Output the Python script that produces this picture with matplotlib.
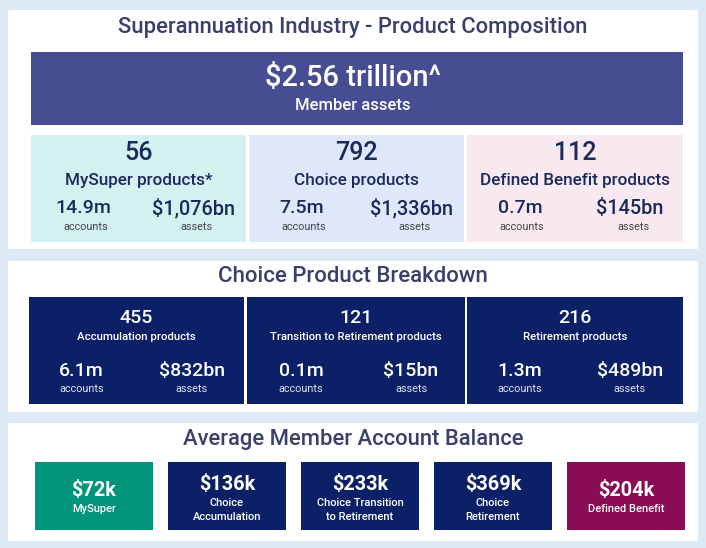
import matplotlib.pyplot as plt
from matplotlib.patches import Rectangle

# hodnoty z infografiky
total_assets = "$2.56 trillion^"
total_label = "Member assets"

prod_counts = ["56", "792", "112"]
prod_names = ["MySuper products*", "Choice products", "Defined Benefit products"]
prod_accounts = ["14.9m", "7.5m", "0.7m"]
prod_assets = ["$1,076bn", "$1,336bn", "$145bn"]

choice_counts = ["455", "121", "216"]
choice_names = ["Accumulation products", "Transition to Retirement products", "Retirement products"]
choice_accounts = ["6.1m", "0.1m", "1.3m"]
choice_assets = ["$832bn", "$15bn", "$489bn"]

bal_values = ["$72k", "$136k", "$233k", "$369k", "$204k"]
bal_labels = ["MySuper", "Choice\nAccumulation", "Choice Transition\nto Retirement",
              "Choice\nRetirement", "Defined Benefit"]

# barvy
bg = "#dde9f5"
title_col = "#3b3f6b"
banner_col = "#474d92"
dark_txt = "#1b2a5c"
navy = "#0b2066"
light_cols = ["#d4f1f2", "#dfe7fb", "#f8e8ef"]
bal_cols = ["#00947a", navy, navy, navy, "#8a0c55"]

plt.rcParams['font.family'] = ['Roboto', 'DejaVu Sans']

fig = plt.figure(figsize=(7.06, 5.48), dpi=100)
fig.patch.set_facecolor(bg)
ax = fig.add_axes([0, 0, 1, 1])
ax.set_xlim(0, 706)
ax.set_ylim(548, 0)
ax.axis('off')


def box(x0, y0, x1, y1, col):
    ax.add_patch(Rectangle((x0, y0), x1 - x0, y1 - y0, facecolor=col, edgecolor='none'))


def txt(x, y, s, size, col, weight='normal', ls=1.05):
    ax.text(x, y, s, ha='center', va='center', fontsize=size, color=col,
            fontweight=weight, linespacing=ls)


# bile panely
for y0, y1 in [(10, 249), (261, 412), (423, 541)]:
    box(8, y0, 698, y1, 'white')

# panel 1
txt(353, 28, "Superannuation Industry - Product Composition", 15.8, title_col, 'medium')
box(31, 52, 683, 125, banner_col)
txt(353, 78, total_assets, 21, 'white', 'medium')
txt(353, 105, total_label, 12, 'white', 'medium')

edges = [(31, 246), (249, 464), (467, 683)]
for i, (x0, x1) in enumerate(edges):
    box(x0, 135, x1, 242, light_cols[i])
    cx = (x0 + x1) / 2
    txt(cx, 153, prod_counts[i], 18, dark_txt, 'medium')
    txt(cx, 180, prod_names[i], 12.3, dark_txt, 'medium')
    txt(cx - 55, 208, prod_accounts[i], 14, dark_txt, 'medium')
    txt(cx + 55, 208, prod_assets[i], 14.3, dark_txt, 'medium')
    txt(cx - 53, 227, "accounts", 7.8, '#444444')
    txt(cx + 58, 227, "assets", 7.8, '#444444')

# panel 2
txt(353, 277, "Choice Product Breakdown", 16, title_col, 'medium')
edges2 = [(29, 244), (247, 465), (467, 683)]
for i, (x0, x1) in enumerate(edges2):
    box(x0, 297, x1, 404, navy)
    cx = (x0 + x1) / 2
    txt(cx, 318, choice_counts[i], 14, 'white', 'medium')
    txt(cx, 337, choice_names[i], 8.2, 'white', 'medium')
    txt(cx - 55, 371, choice_accounts[i], 14, 'white', 'medium')
    txt(cx + 55, 371, choice_assets[i], 14, 'white', 'medium')
    txt(cx - 55, 389, "accounts", 7.8, '#dde2ef')
    txt(cx + 55, 389, "assets", 7.8, '#dde2ef')

# panel 3
txt(353, 439, "Average Member Account Balance", 15.8, title_col, 'medium')
for i in range(len(bal_values)):
    x0 = 35 + i * 133
    box(x0, 462, x0 + 118, 530, bal_cols[i])
    cx = x0 + 59
    if "\n" in bal_labels[i]:
        txt(cx, 484, bal_values[i], 14.3, 'white', 'bold')
        txt(cx, 510, bal_labels[i], 8, 'white', 'medium', ls=1.4)
    else:
        txt(cx, 490, bal_values[i], 14.3, 'white', 'bold')
        txt(cx, 509, bal_labels[i], 8, 'white', 'medium')

fig.savefig("out.png", dpi=100, facecolor=bg)
